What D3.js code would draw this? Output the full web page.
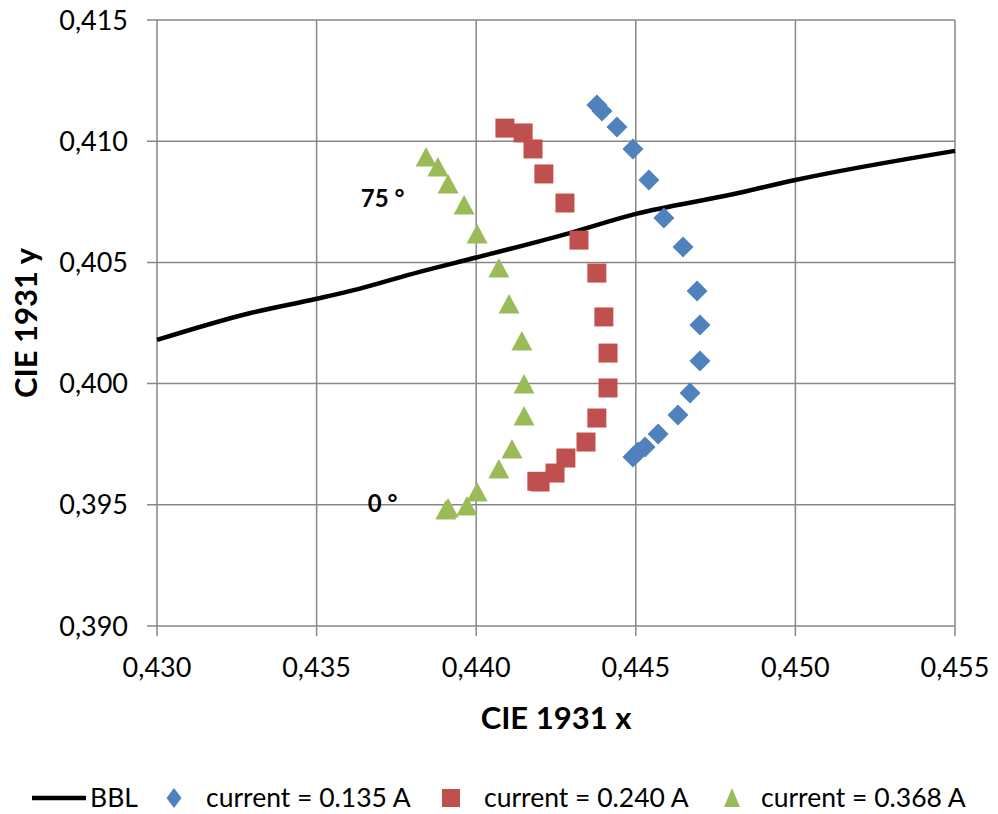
<!DOCTYPE html>
<html><head><meta charset="utf-8">
<script src="https://cdn.jsdelivr.net/npm/d3@7"></script>
<style>body{margin:0;background:#fff}svg{display:block}text{font-family:Lato,"Open Sans",sans-serif}</style>
</head><body><svg id="c" width="998" height="814"></svg>
<script>
const xTicks = [0.430, 0.435, 0.440, 0.445, 0.450, 0.455];
const yTicks = [0.390, 0.395, 0.400, 0.405, 0.410, 0.415];
const bblX = [0.4300, 0.4329, 0.4350, 0.4363, 0.4382, 0.4400, 0.4429, 0.4450, 0.4480, 0.4500, 0.4550];
const bblY = [0.4018, 0.4029, 0.4035, 0.4039, 0.4046, 0.4052, 0.4062, 0.4070, 0.4078, 0.4084, 0.4096];
const blueX = [0.44378, 0.44394, 0.44441, 0.44491, 0.44541, 0.44588, 0.44648, 0.44692, 0.44701, 0.44701, 0.44670, 0.44632, 0.44570, 0.44529, 0.44507, 0.44491];
const blueY = [0.41149, 0.41125, 0.41059, 0.40968, 0.40840, 0.40683, 0.40564, 0.40382, 0.40242, 0.40093, 0.39961, 0.39870, 0.39792, 0.39738, 0.39718, 0.39697];
const redX = [0.44090, 0.44147, 0.44178, 0.44212, 0.44278, 0.44322, 0.44378, 0.44400, 0.44413, 0.44413, 0.44378, 0.44344, 0.44281, 0.44247, 0.44200, 0.44190];
const redY = [0.41054, 0.41034, 0.40968, 0.40865, 0.40745, 0.40592, 0.40456, 0.40275, 0.40126, 0.39982, 0.39858, 0.39759, 0.39693, 0.39631, 0.39594, 0.39597];
const greenX = [0.43843, 0.43880, 0.43912, 0.43962, 0.44003, 0.44071, 0.44103, 0.44143, 0.44150, 0.44150, 0.44112, 0.44071, 0.44003, 0.43971, 0.43912, 0.43905];
const greenY = [0.40935, 0.40894, 0.40823, 0.40737, 0.40617, 0.40477, 0.40328, 0.40176, 0.39998, 0.39866, 0.39730, 0.39648, 0.39553, 0.39495, 0.39487, 0.39479];
const seriesNames = ["BBL", "current = 0.135 A", "current = 0.240 A", "current = 0.368 A"];
const colors = ["#000000", "#4F81BD", "#C0504D", "#9BBB59"];
const annotations = [{t:"75 °", x:0.43707, y:0.40729}, {t:"0 °", x:0.43707, y:0.39470}];

const svg = d3.select("#c");
const L = 157, R = 955, T = 20, B = 626;
const x = d3.scaleLinear().domain([0.430, 0.455]).range([L, R]);
const y = d3.scaleLinear().domain([0.390, 0.415]).range([B, T]);
const fmt = v => d3.format(".3f")(v).replace(".", ",");
const grid = "#878787";

// gridlines
svg.append("g").selectAll("line").data(xTicks).join("line")
  .attr("x1", d => x(d)).attr("x2", d => x(d)).attr("y1", T).attr("y2", B + 10)
  .attr("stroke", grid).attr("stroke-width", 1.5);
svg.append("g").selectAll("line").data(yTicks).join("line")
  .attr("y1", d => y(d)).attr("y2", d => y(d)).attr("x1", L - 10).attr("x2", R)
  .attr("stroke", grid).attr("stroke-width", 1.5);

// tick labels
svg.append("g").selectAll("text").data(xTicks).join("text")
  .attr("x", d => x(d)).attr("y", 677).attr("text-anchor", "middle")
  .attr("font-size", 27).attr("fill", "#000").text(fmt);
svg.append("g").selectAll("text").data(yTicks).join("text")
  .attr("x", 128).attr("y", d => y(d) + 9.5).attr("text-anchor", "end")
  .attr("font-size", 27).attr("fill", "#000").text(fmt);

// axis titles
svg.append("text").attr("x", 556).attr("y", 729).attr("text-anchor", "middle")
  .attr("font-size", 31).attr("font-weight", "bold").text("CIE 1931 x");
svg.append("text").attr("transform", "translate(37,323) rotate(-90)").attr("text-anchor", "middle")
  .attr("font-size", 31).attr("font-weight", "bold").text("CIE 1931 y");

// BBL line
const bbl = bblX.map((v, i) => [v, bblY[i]]);
svg.append("path").datum(bbl)
  .attr("d", d3.line().x(d => x(d[0])).y(d => y(d[1])).curve(d3.curveMonotoneX))
  .attr("fill", "none").attr("stroke", "#000").attr("stroke-width", 4.5);

// markers
const sets = [null, [blueX, blueY], [redX, redY], [greenX, greenY]];
function shape(i) {
  if (i === 1) return "M0,-10.5L10.5,0L0,10.5L-10.5,0Z";
  if (i === 2) return "M-9.5,-9.5H9.5V9.5H-9.5Z";
  return "M0,-10L10.5,9.5H-10.5Z";
}
for (let s = 1; s <= 3; s++) {
  const [xs, ys] = sets[s];
  svg.append("g").selectAll("path").data(xs.map((v, i) => [v, ys[i]])).join("path")
    .attr("transform", d => `translate(${x(d[0])},${y(d[1])})`)
    .attr("d", shape(s)).attr("fill", colors[s]);
}

// annotations
svg.append("g").selectAll("text").data(annotations).join("text")
  .attr("x", d => x(d.x)).attr("y", d => y(d.y)).attr("text-anchor", "middle")
  .attr("font-size", 24).attr("font-weight", "bold").text(d => d.t);

// legend
const lg = svg.append("g");
const ly = 798;
lg.append("line").attr("x1", 32).attr("x2", 86).attr("y1", ly).attr("y2", ly).attr("stroke", "#000").attr("stroke-width", 4.5);
lg.append("text").attr("x", 90).attr("y", ly + 9).attr("font-size", 26.5).text(seriesNames[0]);
const lpos = [[174, 206], [451, 484], [732, 761]];
const lshape = ["M0,-10L7.5,0L0,10L-7.5,0Z", "M-9,-9H9V9H-9Z", "M0,-10L8,9H-8Z"];
for (let s = 1; s <= 3; s++) {
  lg.append("path").attr("transform", `translate(${lpos[s-1][0]},${ly})`).attr("d", lshape[s-1]).attr("fill", colors[s]);
  lg.append("text").attr("x", lpos[s-1][1]).attr("y", ly + 9).attr("font-size", 26.5).text(seriesNames[s]);
}
</script></body></html>
